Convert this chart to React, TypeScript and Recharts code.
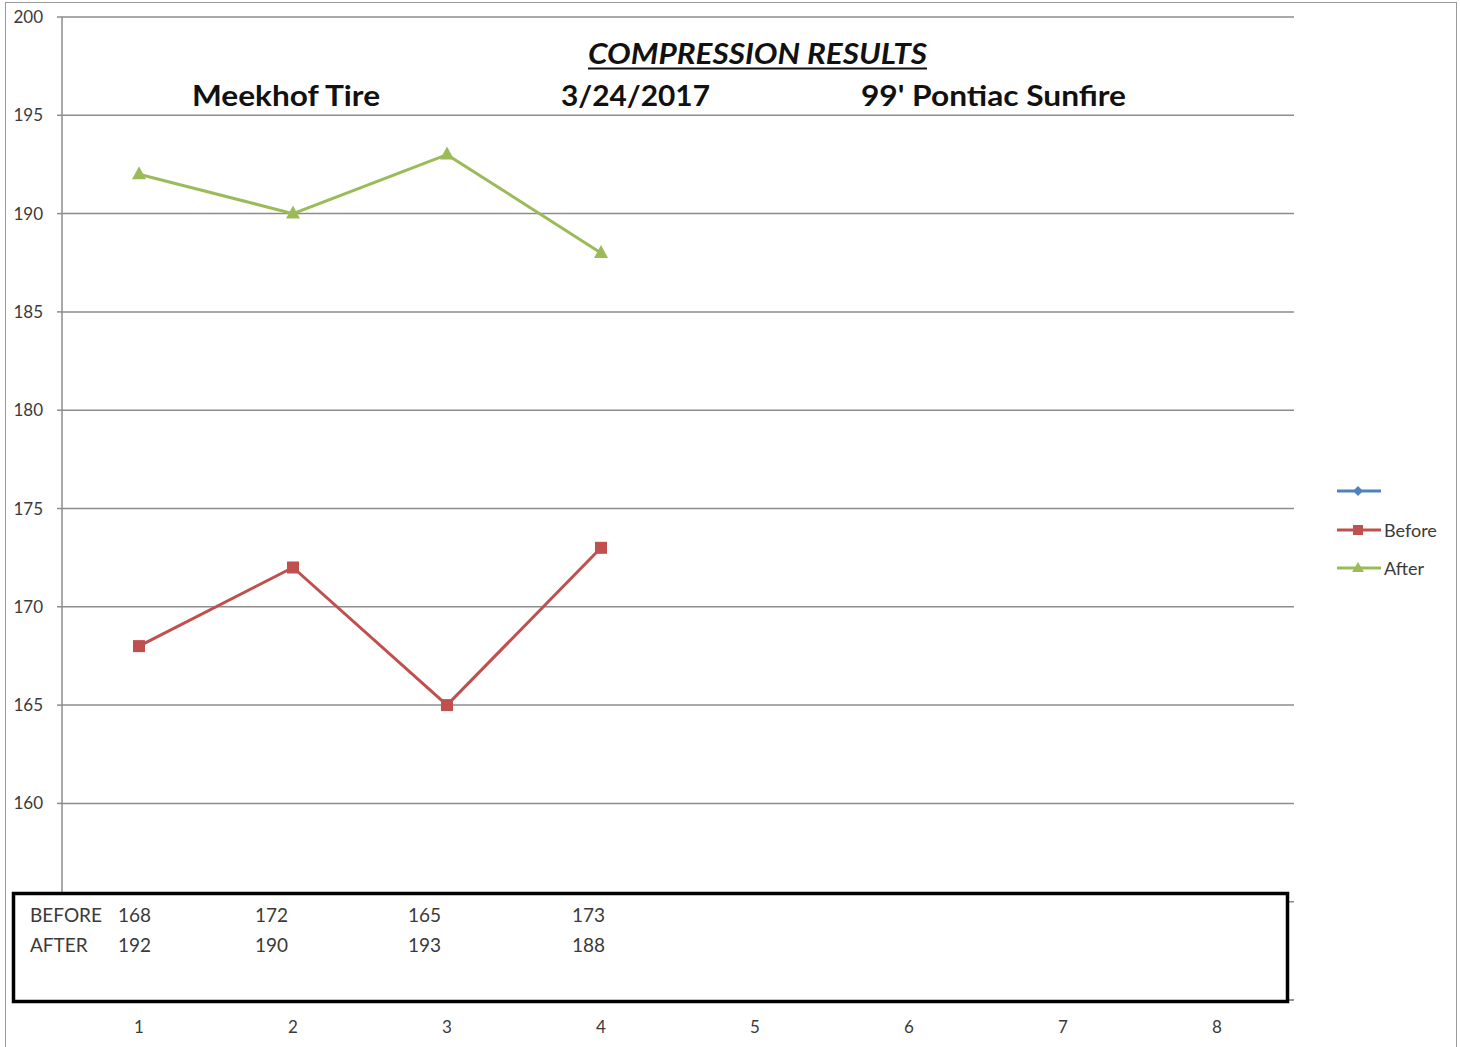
import React from 'react';
import { LineChart, Line, XAxis, YAxis, CartesianGrid, Legend } from 'recharts';

// cylinder numbers on the x axis
const cylinders = ['1', '2', '3', '4', '5', '6', '7', '8'];
const beforeValues = [168, 172, 165, 173, null, null, null, null];
const afterValues = [192, 190, 193, 188, null, null, null, null];
// empty first series (only shows in the legend)
const blankValues = [null, null, null, null, null, null, null, null];
const yTicks = [150, 155, 160, 165, 170, 175, 180, 185, 190, 195, 200];
// labels below this sit under the text box in the original
const firstVisibleYLabel = 160;

const seriesOrder = ['blank', 'before', 'after'];
const seriesNames = { blank: ' ', before: 'Before', after: 'After' };
const colors = { blank: '#4F81BD', before: '#C0504D', after: '#9BBB59' };

// text box under the plot, right edge of each typed value
const boxValueRight = [151, 288, 441, 605];

const data = cylinders.map((c, i) => ({
  cyl: c,
  blank: blankValues[i],
  before: beforeValues[i],
  after: afterValues[i],
}));

const FONT = 'Lato, "Noto Sans", sans-serif';
const TEXT = '#3a3a3a';

function SquareDot(props: any) {
  const { cx, cy, index } = props;
  if (cx == null || cy == null || props.value == null) return <g key={'s' + index} />;
  return <rect key={'s' + index} x={cx - 6} y={cy - 6} width={12} height={12} fill={colors.before} />;
}

function TriangleDot(props: any) {
  const { cx, cy, index } = props;
  if (cx == null || cy == null || props.value == null) return <g key={'t' + index} />;
  return (
    <polygon
      key={'t' + index}
      points={`${cx},${cy - 8} ${cx - 7},${cy + 5} ${cx + 7},${cy + 5}`}
      fill={colors.after}
    />
  );
}

function YTick(props: any) {
  const { x, y, payload } = props;
  if (payload.value < firstVisibleYLabel) return <g />;
  return (
    <text x={x} y={y} dy={6} textAnchor="end" fill={TEXT} fontSize={17} fontFamily={FONT}>
      {payload.value}
    </text>
  );
}

function LegendIcon({ kind, color }: { kind: string; color: string }) {
  return (
    <svg width={44} height={14} style={{ display: 'block' }}>
      <line x1={0} y1={7} x2={44} y2={7} stroke={color} strokeWidth={3} />
      {kind === 'blank' && <polygon points="21,2 26,7 21,12 16,7" fill={color} />}
      {kind === 'before' && <rect x={16} y={2} width={10} height={10} fill={color} />}
      {kind === 'after' && <polygon points="21,1 27,11 15,11" fill={color} />}
    </svg>
  );
}

const renderLegend = (props: any) => {
  const payload = [...(props.payload || [])].sort(
    (a: any, b: any) => seriesOrder.indexOf(a.dataKey) - seriesOrder.indexOf(b.dataKey)
  );
  return (
    <div>
      {payload.map((entry: any) => (
        <div
          key={entry.dataKey}
          style={{ display: 'flex', alignItems: 'center', height: 38.5, fontFamily: FONT, fontSize: 18, color: TEXT }}
        >
          <LegendIcon kind={entry.dataKey} color={entry.color} />
          <span style={{ marginLeft: 3 }}>{entry.value}</span>
        </div>
      ))}
    </div>
  );
};

export default function App() {
  return (
    <div style={{ position: 'absolute', left: 0, top: 0, width: 1460, height: 1047, background: '#fff', overflow: 'hidden' }}>
      {/* chart area frame */}
      <div
        style={{
          position: 'absolute',
          left: 5,
          top: 2,
          width: 1452,
          height: 1060,
          border: '1.5px solid #9a9a9a',
          boxSizing: 'border-box',
        }}
      />
      <LineChart
        width={1460}
        height={1047}
        data={data}
        margin={{ top: 17, right: 166, bottom: 17, left: 0 }}
        style={{ position: 'absolute', left: 0, top: 0 }}
      >
        <CartesianGrid vertical={false} stroke="#8c8c8c" strokeWidth={1.5} />
        <XAxis
          dataKey="cyl"
          scale="band"
          height={30}
          axisLine={{ stroke: '#8c8c8c', strokeWidth: 1.5 }}
          tickLine={false}
          tickMargin={15}
          tick={{ fill: TEXT, fontSize: 17, fontFamily: FONT }}
        />
        <YAxis
          domain={[150, 200]}
          ticks={yTicks}
          width={62}
          interval={0}
          axisLine={{ stroke: '#8c8c8c', strokeWidth: 1.5 }}
          tickLine={{ stroke: '#8c8c8c', strokeWidth: 1.5 }}
          tickSize={5}
          tickMargin={14}
          tick={<YTick />}
        />
        <Legend
          layout="vertical"
          align="center"
          verticalAlign="middle"
          content={renderLegend}
          wrapperStyle={{ top: 472, left: 1337, right: 'auto', bottom: 'auto', width: 120 }}
        />
        <Line
          dataKey="blank"
          name={seriesNames.blank}
          stroke={colors.blank}
          strokeWidth={3}
          dot={false}
          isAnimationActive={false}
        />
        <Line
          dataKey="before"
          name={seriesNames.before}
          stroke={colors.before}
          strokeWidth={3}
          dot={SquareDot}
          activeDot={false}
          isAnimationActive={false}
        />
        <Line
          dataKey="after"
          name={seriesNames.after}
          stroke={colors.after}
          strokeWidth={3}
          dot={TriangleDot}
          activeDot={false}
          isAnimationActive={false}
        />
      </LineChart>

      {/* title block and typed text box */}
      <svg width={1460} height={1047} style={{ position: 'absolute', left: 0, top: 0, pointerEvents: 'none' }}>
        <text
          x={588}
          y={64}
          textLength={339}
          lengthAdjust="spacingAndGlyphs"
          fontFamily={FONT}
          fontSize={29}
          fontWeight="bold"
          fontStyle="italic"
          fill="#111"
        >
          COMPRESSION RESULTS
        </text>
        <line x1={588} y1={68.5} x2={927} y2={68.5} stroke="#111" strokeWidth={2} />
        <text x={192} y={106} textLength={188} lengthAdjust="spacingAndGlyphs" fontFamily={FONT} fontSize={29} fontWeight="bold" fill="#111">
          Meekhof Tire
        </text>
        <text x={561} y={106} textLength={149} lengthAdjust="spacingAndGlyphs" fontFamily={FONT} fontSize={29} fontWeight="bold" fill="#111">
          3/24/2017
        </text>
        <text x={861} y={106} textLength={265} lengthAdjust="spacingAndGlyphs" fontFamily={FONT} fontSize={29} fontWeight="bold" fill="#111">
          99' Pontiac Sunfire
        </text>

        <rect x={13.5} y={893.5} width={1274} height={108} fill="#fff" stroke="#000" strokeWidth={3.5} />
        <text x={30} y={922} fontFamily={FONT} fontSize={19} fill={TEXT}>BEFORE</text>
        <text x={30} y={952} fontFamily={FONT} fontSize={19} fill={TEXT}>AFTER</text>
        {beforeValues.map((v, i) =>
          v == null ? null : (
            <text key={'b' + i} x={boxValueRight[i]} y={922} textAnchor="end" fontFamily={FONT} fontSize={19} fill={TEXT}>
              {v}
            </text>
          )
        )}
        {afterValues.map((v, i) =>
          v == null ? null : (
            <text key={'a' + i} x={boxValueRight[i]} y={952} textAnchor="end" fontFamily={FONT} fontSize={19} fill={TEXT}>
              {v}
            </text>
          )
        )}
      </svg>
    </div>
  );
}
